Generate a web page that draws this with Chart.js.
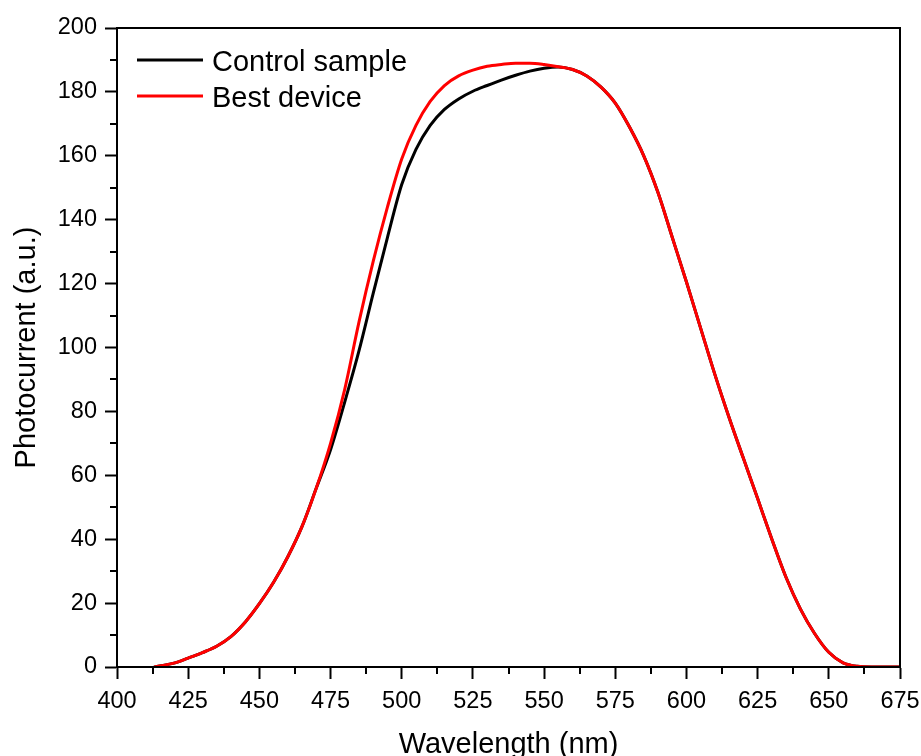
<!DOCTYPE html>
<html><head><meta charset="utf-8">
<script src="https://cdn.jsdelivr.net/npm/chart.js@4.4.1/dist/chart.umd.min.js"></script>
<style>html,body{margin:0;padding:0;background:#fff;}#wrap{width:921px;height:756px;position:relative;}</style>
</head><body><div id="wrap"><canvas id="c"></canvas></div>
<script>
const wavelengths = [413,415,420,425,430,435,440,445,450,455,460,465,470,475,480,485,490,495,500,505,510,515,520,525,530,535,540,545,550,555,560,565,570,575,580,585,590,595,600,605,610,615,620,625,630,635,640,645,650,655,660,665,670,675];
const controlSample = [0,0.3,1.2,2.8,4.5,6.5,9.5,14,19.8,26.5,34.5,44,56,68,83,99,117,134.5,151,162,169.5,174.5,177.8,180.2,182,183.7,185.2,186.5,187.4,187.8,187,185,181.5,176.5,169,160,148.5,134.5,120.5,106,91.5,78,65.3,52.7,40,28,18.2,10.5,4.6,1.3,0.2,0,0,0];
const bestDevice = [0,0.3,1.2,2.8,4.5,6.5,9.5,14,19.8,26.5,34.5,44,56,70,87,108,127,144,159,169.5,177,182,185,186.8,188,188.6,189,189,188.6,187.9,187,185,181.5,176.5,169,160,148.5,134.5,120.5,106,91.5,78,65.3,52.7,40,28,18.2,10.5,4.6,1.3,0.2,0,0,0];
const seriesNames = ['Control sample', 'Best device'];
const seriesColors = ['#000000', '#ff0000'];
const xTitle = 'Wavelength (nm)';
const yTitle = 'Photocurrent (a.u.)';
const xMin = 400, xMax = 675, xStep = 25;
const yMin = 0, yMax = 200, yStep = 20;

const FONT = '"Liberation Sans", Arial, sans-serif';

const toPts = vals => wavelengths.map((w, i) => ({x: w, y: vals[i]}));

const framePlugin = {
  id: 'frame',
  afterDraw(chart) {
    const {ctx, chartArea: a, scales: {x, y}} = chart;
    ctx.save();
    ctx.strokeStyle = '#000';
    ctx.lineWidth = 2;
    ctx.strokeRect(a.left, a.top, a.right - a.left, a.bottom - a.top);
    ctx.beginPath();
    for (let v = xMin + xStep / 2; v < xMax; v += xStep) {
      const px = Math.round(x.getPixelForValue(v));
      ctx.moveTo(px, a.bottom); ctx.lineTo(px, a.bottom + 7);
    }
    for (let v = yMin + yStep / 2; v < yMax; v += yStep) {
      const py = Math.round(y.getPixelForValue(v));
      ctx.moveTo(a.left, py); ctx.lineTo(a.left - 7, py);
    }
    ctx.stroke();
    ctx.font = '29px ' + FONT;
    ctx.textBaseline = 'alphabetic';
    ctx.textAlign = 'left';
    chart.data.datasets.forEach((ds, i) => {
      const ly = a.top + 32 + i * 36;
      ctx.strokeStyle = ds.borderColor;
      ctx.lineWidth = 3;
      ctx.beginPath();
      ctx.moveTo(a.left + 20, ly); ctx.lineTo(a.left + 86, ly);
      ctx.stroke();
      ctx.fillStyle = '#000';
      ctx.fillText(ds.label, a.left + 95, ly + 10.5);
    });
    ctx.restore();
  }
};

new Chart(document.getElementById('c'), {
  type: 'line',
  data: {
    datasets: [
      {label: seriesNames[0], data: toPts(controlSample), borderColor: seriesColors[0], borderWidth: 3, pointRadius: 0, tension: 0.4, cubicInterpolationMode: 'monotone', order: 2, fill: false},
      {label: seriesNames[1], data: toPts(bestDevice), borderColor: seriesColors[1], borderWidth: 3, pointRadius: 0, tension: 0.4, cubicInterpolationMode: 'monotone', order: 1, fill: false}
    ]
  },
  options: {
    responsive: true,
    maintainAspectRatio: false,
    animation: false,
    layout: {padding: {top: 28, right: 21, left: 0, bottom: 0}},
    plugins: {legend: {display: false}, tooltip: {enabled: false}},
    scales: {
      x: {
        type: 'linear', min: xMin, max: xMax,
        ticks: {stepSize: xStep, color: '#000', font: {family: FONT, size: 23.5}, padding: 8, maxRotation: 0, autoSkip: false},
        grid: {drawOnChartArea: false, drawTicks: true, tickLength: 12, tickWidth: 2, tickColor: '#000'},
        border: {color: '#000', width: 2},
        title: {display: true, text: xTitle, color: '#000', font: {family: FONT, size: 29}, padding: {top: 0, bottom: -6}},
        afterFit: s => { s.height = 89; s.paddingLeft = 0; s.paddingRight = 0; }
      },
      y: {
        min: yMin, max: yMax,
        ticks: {stepSize: yStep, color: '#000', font: {family: FONT, size: 23.5}, padding: 8},
        grid: {drawOnChartArea: false, drawTicks: true, tickLength: 12, tickWidth: 2, tickColor: '#000'},
        border: {color: '#000', width: 2},
        title: {display: true, text: yTitle, color: '#000', font: {family: FONT, size: 29}, padding: {top: 10, bottom: 0}},
        afterFit: s => { s.width = 117; s.paddingTop = 0; s.paddingBottom = 0; }
      }
    }
  },
  plugins: [framePlugin]
});
</script></body></html>
